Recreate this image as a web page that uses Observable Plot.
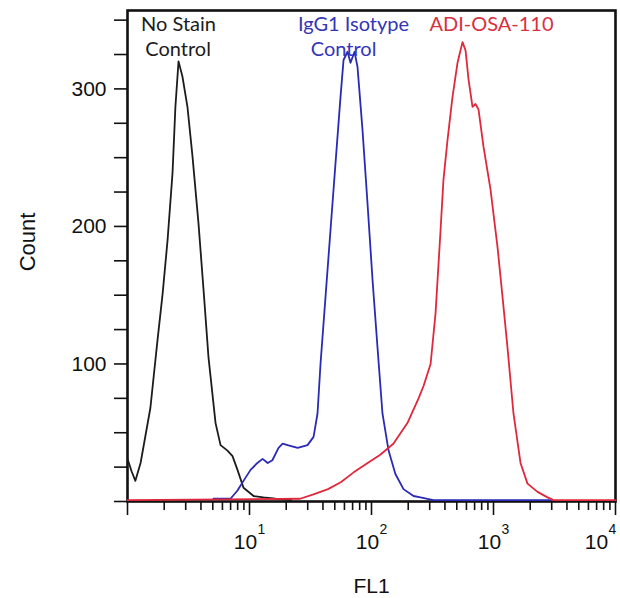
<!DOCTYPE html>
<html>
<head>
<meta charset="utf-8">
<script src="https://cdn.jsdelivr.net/npm/d3@7"></script>
<script src="https://cdn.jsdelivr.net/npm/@observablehq/plot@0.6"></script>
<style>
  html, body { margin: 0; padding: 0; background: #fff; }
</style>
</head>
<body>
<div id="chart"></div>
<script>
// ---- Data ----
const noStainFL1   = [1.0, 1.08, 1.16, 1.28, 1.54, 1.76, 1.94, 2.13, 2.34, 2.47, 2.62, 2.82, 3.10, 3.41, 3.82, 4.20, 4.61, 5.27, 5.79, 6.60, 7.26, 7.97, 8.93, 10.8, 13.0, 16.3, 22];
const noStainCount = [31, 22, 15, 28, 68, 117, 151, 190, 239, 287, 320, 309, 287, 251, 202, 154, 105, 57, 41, 37, 33, 23, 10, 4, 3, 2, 1];

const isotypeFL1   = [5.07, 6.99, 7.97, 8.93, 10.2, 11.6, 12.8, 14.1, 15.4, 17.3, 18.7, 20.5, 24.8, 29.9, 33.5, 36.1, 38.2, 42.0, 46.1, 50.7, 55.7, 59.0, 63.6, 67.3, 72.6, 76.8, 84.4, 92.7, 102, 112, 123, 138, 157, 183, 221, 252, 322, 2930];
const isotypeCount = [2, 2, 8, 15, 23, 28, 31, 28, 30, 39, 42, 41, 39, 41, 47, 64, 100, 149, 197, 246, 294, 321, 327, 319, 327, 316, 270, 217, 161, 112, 64, 37, 20, 9, 4, 3, 1, 1];

const adiFL1   = [1, 26, 33, 44, 56, 71, 93, 118, 151, 197, 243, 267, 305, 335, 368, 389, 420, 461, 507, 557, 590, 624, 673, 712, 754, 828, 945, 1079, 1185, 1302, 1458, 1665, 1900, 2295, 2771, 3103, 10000];
const adiCount = [1, 2, 5, 9, 14, 21, 28, 34, 42, 57, 75, 84, 100, 137, 197, 234, 263, 294, 319, 334, 328, 307, 287, 289, 285, 258, 227, 185, 149, 112, 64, 28, 13, 7, 3, 1, 1];

const seriesNames  = ["No Stain Control", "IgG1 Isotype Control", "ADI-OSA-110"];
const seriesColors = ["#1c1c1c", "#2a2ab4", "#e0283c"];

// Annotation labels (data coordinates)
const labelText  = ["No Stain", "Control", "IgG1 Isotype", "Control", "ADI-OSA-110"];
const labelFL1   = [2.62, 2.60, 71.2, 59.0, 963];
const labelCount = [342, 324, 342, 324, 342];
const labelColor = ["#1c1c1c", "#1c1c1c", "#3535b8", "#3535b8", "#d8303f"];

// Axis ticks
const yTicks = [0, 25, 50, 75, 100, 125, 150, 175, 200, 225, 250, 275, 300, 325, 350];
const yLabelTicks = [100, 200, 300];
const xMajorTicks = [1, 10, 100, 1000, 10000];
const xMajorExponents = ["", "1", "2", "3", "4"];
const xMinorTicks = [2,3,4,5,6,7,8,9, 20,30,40,50,60,70,80,90, 200,300,400,500,600,700,800,900, 2000,3000,4000,5000,6000,7000,8000,9000];
const xLabelShift = [0, -4, -4, -4, -19];
const xExpShift   = [0, 12, 12, 12, -3];

// ---- Build tables ----
const rows = [];
[[noStainFL1, noStainCount], [isotypeFL1, isotypeCount], [adiFL1, adiCount]].forEach(([xs, ys], i) => {
  xs.forEach((x, j) => rows.push({series: seriesNames[i], fl1: x, count: ys[j]}));
});
const labels = labelText.map((t, i) => ({text: t, fl1: labelFL1[i], count: labelCount[i], color: labelColor[i]}));
const majorLabels = xMajorTicks
  .map((v, i) => ({v, exp: xMajorExponents[i], dx: xLabelShift[i], edx: xExpShift[i]}))
  .filter(d => d.exp !== "");

const axisFont = "'Liberation Sans', Arial, sans-serif";

const tickLabelMarks = majorLabels.flatMap(d => [
  Plot.text([d], {x: "v", frameAnchor: "bottom", text: () => "10", dy: 47, dx: d.dx,
    lineAnchor: "bottom", fontSize: 21, fill: "#111"}),
  Plot.text([d], {x: "v", frameAnchor: "bottom", text: "exp", dy: 32, dx: d.edx,
    lineAnchor: "bottom", fontSize: 14, fill: "#111"})
]);

const chart = Plot.plot({
  width: 620,
  height: 598,
  marginLeft: 127,
  marginRight: 5,
  marginTop: 10,
  marginBottom: 97,
  style: {fontFamily: axisFont, fontSize: "20px", background: "#fff", color: "#111"},
  x: {type: "log", domain: [1, 10000]},
  y: {domain: [0, 357]},
  color: {domain: seriesNames, range: seriesColors},
  marks: [
    Plot.axisY({ticks: yTicks, tickSize: 13, tickPadding: 8, strokeWidth: 1.6,
      tickFormat: d => yLabelTicks.includes(d) ? String(d) : "", label: null, fontSize: 21}),
    Plot.axisX({ticks: xMinorTicks, tickSize: 9, strokeWidth: 1.6, tickFormat: () => "", label: null}),
    Plot.axisX({ticks: xMajorTicks, tickSize: 14, strokeWidth: 1.6, tickFormat: () => "", label: null}),
    ...tickLabelMarks,
    Plot.text(["FL1"], {frameAnchor: "bottom", text: d => d, dy: 91, lineAnchor: "bottom",
      textAnchor: "middle", fontSize: 21, fill: "#111"}),
    Plot.text(["Count"], {frameAnchor: "left", text: d => d, dx: -100, dy: -14, rotate: -90,
      textAnchor: "middle", lineAnchor: "middle", fontSize: 22, fill: "#111"}),
    Plot.frame({stroke: "#111", strokeWidth: 2.6}),
    Plot.line(rows, {x: "fl1", y: "count", z: "series", stroke: "series", strokeWidth: 1.8}),
    Plot.text(labels, {x: "fl1", y: "count", text: "text", fill: "color", lineAnchor: "bottom",
      fontFamily: "Lato, 'Open Sans', sans-serif", fontSize: 20})
  ]
});
document.getElementById("chart").appendChild(chart);
</script>
</body>
</html>
